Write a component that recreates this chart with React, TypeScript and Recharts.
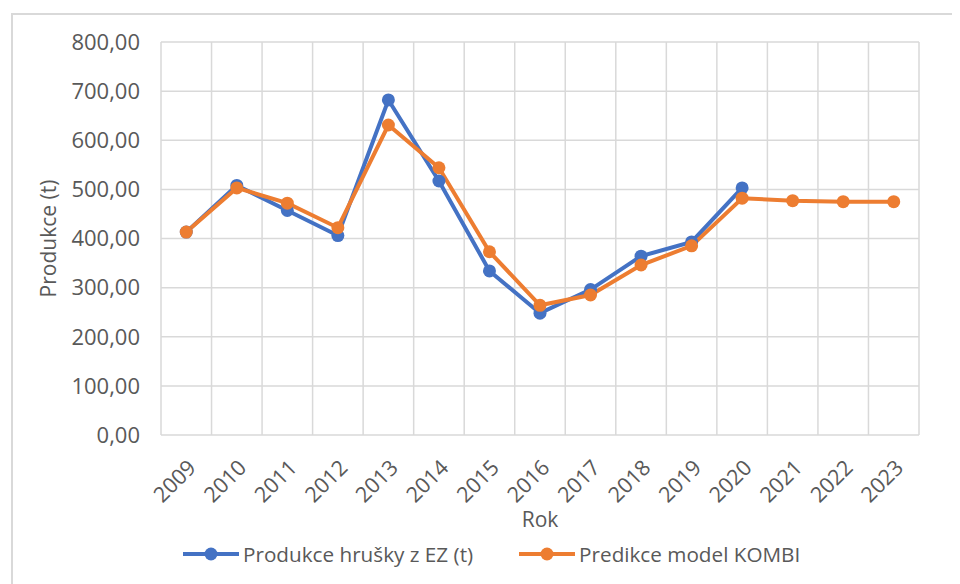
import React from 'react';
import { ComposedChart, Line, XAxis, YAxis, CartesianGrid, Legend } from 'recharts';

const years = ['2009', '2010', '2011', '2012', '2013', '2014', '2015', '2016', '2017', '2018', '2019', '2020', '2021', '2022', '2023'];
const produkce: (number | null)[] = [413, 508, 457, 406, 682, 517, 334, 248, 296, 364, 393, 503, null, null, null];
const predikce: number[] = [413, 503, 472, 422, 631, 544, 373, 264, 285, 346, 385, 482, 477, 475, 475];
const yTicks = [0, 100, 200, 300, 400, 500, 600, 700, 800];
const categoryBounds = [0, 1, 2, 3, 4, 5, 6, 7, 8, 9, 10, 11, 12, 13, 14, 15];

const seriesNames = { produkce: 'Produkce hrušky z EZ (t)', predikce: 'Predikce model KOMBI' };
const BLUE = '#4472C4';
const ORANGE = '#ED7D31';
const TEXT = '#595959';
const GRID = '#D9D9D9';
const FONT = '"Open Sans", sans-serif';

const data = years.map((year, i) => ({
  year,
  slot: i + 0.5,
  produkce: produkce[i],
  predikce: predikce[i],
}));

const XTick = (props: any) => {
  const { x, y, payload } = props;
  const ax = x + 5;
  const ay = y + 28;
  return (
    <text
      x={ax}
      y={ay}
      transform={`rotate(-45, ${ax}, ${ay})`}
      textAnchor="end"
      dominantBaseline="central"
      fill={TEXT}
      fontSize={21.5}
      fontFamily={FONT}
    >
      {payload.value}
    </text>
  );
};

const YTitle = (props: any) => {
  const vb = props.viewBox || { x: 0, y: 0, width: 0, height: 0 };
  const cx = 40;
  const cy = vb.y + vb.height / 2;
  return (
    <text
      x={cx}
      y={cy}
      transform={`rotate(-90, ${cx}, ${cy})`}
      textAnchor="middle"
      dominantBaseline="central"
      fill={TEXT}
      fontSize={21}
      fontFamily={FONT}
    >
      Produkce (t)
    </text>
  );
};

const XTitle = (props: any) => {
  const vb = props.viewBox || { x: 0, y: 0, width: 0, height: 0 };
  const cx = vb.x + vb.width / 2;
  return (
    <text
      x={cx}
      y={511}
      textAnchor="middle"
      dominantBaseline="central"
      fill={TEXT}
      fontSize={21}
      fontFamily={FONT}
    >
      Rok
    </text>
  );
};

const LegendIcon = ({ color }: { color: string }) => (
  <svg width={56} height={16} style={{ display: 'block' }}>
    <line x1={0} y1={8} x2={56} y2={8} stroke={color} strokeWidth={4} strokeLinecap="round" />
    <circle cx={28} cy={8} r={6.5} fill={color} />
  </svg>
);

const renderLegend = () => (
  <div
    style={{
      display: 'flex',
      alignItems: 'center',
      height: 20,
      paddingLeft: 175,
      fontFamily: FONT,
      fontSize: 20.7,
      color: TEXT,
      whiteSpace: 'nowrap',
    }}
  >
    <LegendIcon color={BLUE} />
    <span style={{ marginLeft: 4, marginRight: 46 }}>{seriesNames.produkce}</span>
    <LegendIcon color={ORANGE} />
    <span style={{ marginLeft: 4 }}>{seriesNames.predikce}</span>
  </div>
);

export default function App() {
  return (
    <div style={{ position: 'relative', width: 952, height: 576, overflow: 'hidden', background: '#fff' }}>
      <div
        style={{
          position: 'absolute',
          left: 3,
          top: 5,
          width: 1000,
          height: 700,
          borderTop: `2px solid ${GRID}`,
          borderLeft: `2px solid ${GRID}`,
          boxSizing: 'border-box',
        }}
      />
      <div style={{ position: 'absolute', left: 0, top: 0 }}>
        <ComposedChart
          width={952}
          height={576}
          data={data}
          margin={{ top: 34, right: 41, left: 0, bottom: 0 }}
        >
          <XAxis
            xAxisId="grid"
            dataKey="slot"
            type="number"
            domain={[0, 15]}
            allowDataOverflow
            ticks={categoryBounds}
            hide
          />
          <CartesianGrid xAxisId="grid" stroke={GRID} strokeWidth={1.5} />
          <XAxis
            dataKey="year"
            type="category"
            scale="band"
            interval={0}
            height={109}
            axisLine={false}
            tickLine={false}
            tickSize={0}
            tickMargin={0}
            tick={<XTick />}
            label={<XTitle />}
          />
          <YAxis
            domain={[0, 800]}
            ticks={yTicks}
            width={153}
            axisLine={false}
            tickLine={false}
            tickSize={0}
            tickMargin={21}
            tick={{ fill: TEXT, fontSize: 22, fontFamily: FONT }}
            tickFormatter={(v: number) => v.toFixed(2).replace('.', ',')}
            label={<YTitle />}
          />
          <Legend verticalAlign="bottom" height={40} content={renderLegend} />
          <Line
            dataKey="produkce"
            name={seriesNames.produkce}
            stroke={BLUE}
            strokeWidth={4}
            dot={{ r: 6.5, fill: BLUE, stroke: BLUE, strokeWidth: 0 }}
            activeDot={false}
            isAnimationActive={false}
          />
          <Line
            dataKey="predikce"
            name={seriesNames.predikce}
            stroke={ORANGE}
            strokeWidth={4}
            dot={{ r: 6.5, fill: ORANGE, stroke: ORANGE, strokeWidth: 0 }}
            activeDot={false}
            isAnimationActive={false}
          />
        </ComposedChart>
      </div>
    </div>
  );
}
